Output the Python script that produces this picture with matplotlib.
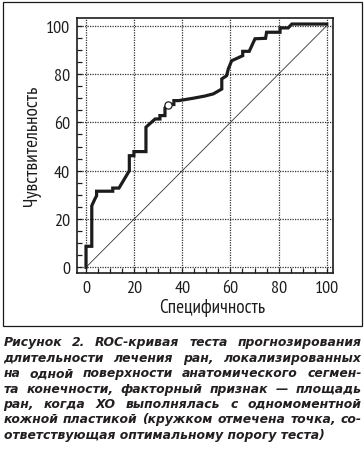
import matplotlib
matplotlib.use("Agg")
import matplotlib.pyplot as plt
from matplotlib import font_manager
from matplotlib.font_manager import FontProperties
from matplotlib.ft2font import FT2Font
from matplotlib.patches import Rectangle
from matplotlib.ticker import MultipleLocator

# ---------------- data ----------------
specificity = [0, 0, 2.4, 2.4, 3.7, 4.4, 4.4, 11.1, 11.1, 13.7, 18.0, 18.0, 19.9, 19.9,
               24.9, 24.9, 28.7, 30.7, 30.7, 32.8, 32.8, 33.9, 34.5, 36.5, 36.5, 38.5,
               44.6, 49.4, 52.9, 56.4, 56.4, 58.4, 59.1, 60.5, 65.1, 65.1, 67.8,
               70.2, 74.6, 75.0, 80.6, 80.6, 84.0, 85.5, 100]
sensitivity = [0, 8.7, 8.7, 25.5, 28.3, 29.6, 31.5, 31.5, 32.8, 32.8, 40.0, 46.2, 46.2, 47.9,
               47.9, 58.0, 61.4, 61.4, 62.8, 62.8, 66.0, 67.2, 67.4, 67.4, 69.0, 69.0,
               70.0, 70.9, 71.8, 73.8, 78.0, 79.3, 82.1, 85.5, 87.6, 89.4, 89.4,
               94.6, 94.8, 97.3, 97.3, 99.1, 99.1, 100.7, 100.7]
optimal_point = (33.9, 67.2)
ticks = [0, 20, 40, 60, 80, 100]
x_label = "Специфичность"
y_label = "Чувствительность"
caption_lines = [
    "Рисунок 2. ROC-кривая теста прогнозирования",
    "длительности лечения ран, локализированных",
    "на одной поверхности анатомического сегмен-",
    "та конечности, факторный признак — площадь",
    "ран, когда ХО выполнялась с одномоментной",
    "кожной пластикой (кружком отмечена точка, со-",
    "ответствующая оптимальному порогу теста)",
]

# ---------------- fonts ----------------
NEEDED = set(x_label + y_label + "0123456789")

def covers(fname):
    try:
        cmap = FT2Font(fname).get_charmap()
    except Exception:
        return False
    return all(ord(c) in cmap for c in NEEDED)

def is_regular(f):
    return f.style == "normal" and f.weight in (400, "normal", "regular", "book") \
        and "bold" not in f.fname.lower() and "italic" not in f.fname.lower()

def find_condensed():
    flist = font_manager.fontManager.ttflist
    cands = [f for f in flist if is_regular(f) and
             ("narrow" in f.name.lower() or "narrow" in f.fname.lower())]
    cands += [f for f in flist if is_regular(f) and
              ("condensed" in str(f.stretch).lower() or "condensed" in f.fname.lower()
               or "condensed" in f.name.lower())]
    for f in cands:
        if covers(f.fname):
            return FontProperties(fname=f.fname)
    return None

cond = find_condensed()
if cond is not None:
    axis_fp = cond
    tick_size = 13.0
    label_size = 13.9
else:
    axis_fp = FontProperties(family="Roboto")
    tick_size = 11.5
    label_size = 12.0

W, H = 364, 460
DPI = 100
fig = plt.figure(figsize=(W / DPI, H / DPI), dpi=DPI)
fig.patch.set_facecolor("white")

def fx(px):
    return px / W

def fy(py):
    return 1 - py / H

# outer frame
fig.patches.append(Rectangle((fx(3), fy(327)), fx(362) - fx(3), fy(3) - fy(327),
                             transform=fig.transFigure, fill=False,
                             edgecolor="#1a1a1a", linewidth=0.9))

ax = fig.add_axes([fx(77), fy(274.3), fx(333) - fx(77), fy(19) - fy(274.3)])
ax.set_xlim(-3.74, 102.6)
ax.set_ylim(-2.48, 103.2)

ax.plot([0, 100], [0, 100], color="#333333", linewidth=0.6, zorder=2)
ax.plot(specificity, sensitivity, color="#1c1c1c", linewidth=2.3,
        solid_joinstyle="miter", zorder=3)
ax.plot([optimal_point[0]], [optimal_point[1]], marker="o", markersize=5.2,
        markerfacecolor="white", markeredgecolor="#1c1c1c", markeredgewidth=0.9,
        zorder=4)

ax.set_xticks(ticks)
ax.set_yticks(ticks)
ax.xaxis.set_minor_locator(MultipleLocator(5))
ax.yaxis.set_minor_locator(MultipleLocator(5))
ax.grid(True, which="major", color="#333333", linestyle=(0, (1, 1)), linewidth=0.9)
ax.set_axisbelow(True)
ax.tick_params(which="both", direction="in", length=3.8, width=0.9, color="#1c1c1c",
               top=False, right=False)
ax.tick_params(which="major", pad=5, labelcolor="#1c1c1c")
for lab in ax.get_xticklabels() + ax.get_yticklabels():
    lab.set_fontproperties(axis_fp)
    lab.set_fontsize(tick_size)
for s in ax.spines.values():
    s.set_linewidth(1.2)
    s.set_color("#1c1c1c")

t1 = fig.text(fx(212), fy(308), x_label, ha="center", va="center",
              fontproperties=axis_fp, color="#1c1c1c")
t1.set_fontsize(label_size)
t2 = fig.text(fx(32), fy(146), y_label, ha="center", va="center", rotation=90,
              fontproperties=axis_fp, color="#1c1c1c")
t2.set_fontsize(label_size)

# ---------------- justified caption ----------------
cap_family = "DejaVu Sans"
left_px, right_px = 3.5, 361.5
base0 = 346.3
step = 15.43
fig.canvas.draw()
renderer = fig.canvas.get_renderer()

# choose a font size so that the widest line fits the caption width
probe_size = 10.0
probe_w = []
for line in caption_lines:
    t = fig.text(0, 0, line, fontsize=probe_size, family=cap_family,
                 fontweight="bold", fontstyle="italic")
    probe_w.append(t.get_window_extent(renderer).width)
    t.remove()
cap_size = probe_size * (right_px - left_px) / max(probe_w) * 0.995

cap_kw = dict(fontsize=cap_size, family=cap_family, fontweight="bold", fontstyle="italic",
              color="#231f20", va="baseline", ha="left")
for i, line in enumerate(caption_lines):
    yb = fy(base0 + i * step)
    if i == len(caption_lines) - 1:
        fig.text(fx(left_px), yb, line, **cap_kw)
        continue
    words = line.split(" ")
    objs = [fig.text(0, yb, w, **cap_kw) for w in words]
    widths = [o.get_window_extent(renderer).width for o in objs]
    gap = (right_px - left_px - sum(widths)) / (len(words) - 1)
    x = left_px
    for o, wd in zip(objs, widths):
        o.set_x(fx(x))
        x += wd + gap

fig.savefig("out.png", dpi=DPI)
